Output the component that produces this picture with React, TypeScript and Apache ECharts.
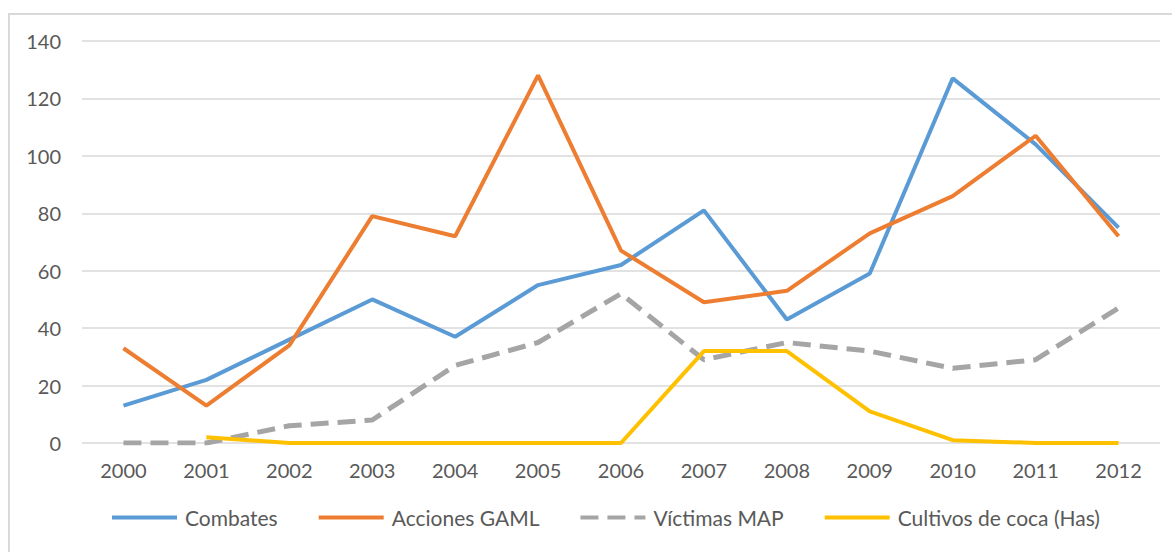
import React, { useEffect, useRef } from "react";
import * as echarts from "echarts";

const years = ["2000","2001","2002","2003","2004","2005","2006","2007","2008","2009","2010","2011","2012"];
const combates = [13, 22, 36, 50, 37, 55, 62, 81, 43, 59, 127, 104, 75];
const accionesGAML = [33, 13, 34, 79, 72, 128, 67, 49, 53, 73, 86, 107, 72];
const victimasMAP = [0, 0, 6, 8, 27, 35, 52, 29, 35, 32, 26, 29, 47];
const cultivosCoca = [null, 2, 0, 0, 0, 0, 0, 32, 32, 11, 1, 0, 0];

const FONT = "Lato";
const TEXT = "#595959";

export default function App() {
  const ref = useRef<HTMLDivElement>(null);
  useEffect(() => {
    if (!ref.current) return;
    const chart = echarts.init(ref.current, null, { renderer: "svg" });
    chart.setOption({
      animation: false,
      backgroundColor: "#ffffff",
      graphic: [
        {
          type: "rect",
          shape: { x: 9, y: 14, width: 1200, height: 600 },
          style: { fill: "none", stroke: "#d9d9d9", lineWidth: 2 },
          silent: true,
          z: -1,
        },
      ],
      grid: { left: 82, right: 12, top: 41, bottom: 109, containLabel: false },
      legend: {
        bottom: 19,
        left: 105,
        itemWidth: 65,
        itemHeight: 14,
        itemGap: 39,
        itemStyle: { opacity: 0 },
        lineStyle: { width: 4 },
        textStyle: { color: TEXT, fontFamily: FONT, fontSize: 21, padding: [0, 0, 0, 3] },
        data: ["Combates", "Acciones GAML", "Víctimas MAP", "Cultivos de coca (Has)"],
      },
      xAxis: {
        type: "category",
        data: years,
        boundaryGap: true,
        axisLine: { show: false },
        axisTick: { show: false },
        axisLabel: { color: TEXT, fontFamily: FONT, fontSize: 20, margin: 17 },
      },
      yAxis: {
        type: "value",
        min: 0,
        max: 140,
        interval: 20,
        axisLine: { show: false },
        axisTick: { show: false },
        axisLabel: { color: TEXT, fontFamily: FONT, fontSize: 20, margin: 21 },
        splitLine: { lineStyle: { color: "#d9d9d9", width: 1.5 } },
      },
      series: [
        {
          name: "Combates",
          type: "line",
          data: combates,
          symbol: "none",
          lineStyle: { color: "#5B9BD5", width: 4 },
          itemStyle: { color: "#5B9BD5" },
        },
        {
          name: "Acciones GAML",
          type: "line",
          data: accionesGAML,
          symbol: "none",
          lineStyle: { color: "#ED7D31", width: 4 },
          itemStyle: { color: "#ED7D31" },
        },
        {
          name: "Víctimas MAP",
          type: "line",
          data: victimasMAP,
          symbol: "none",
          lineStyle: { color: "#A5A5A5", width: 5, type: [18, 9] },
          itemStyle: { color: "#A5A5A5" },
        },
        {
          name: "Cultivos de coca (Has)",
          type: "line",
          data: cultivosCoca,
          symbol: "none",
          lineStyle: { color: "#FFC000", width: 4 },
          itemStyle: { color: "#FFC000" },
        },
      ],
    });
    return () => chart.dispose();
  }, []);
  return (
    <div
      ref={ref}
      style={{ position: "fixed", left: 0, top: 0, width: 1172, height: 552 }}
    />
  );
}
